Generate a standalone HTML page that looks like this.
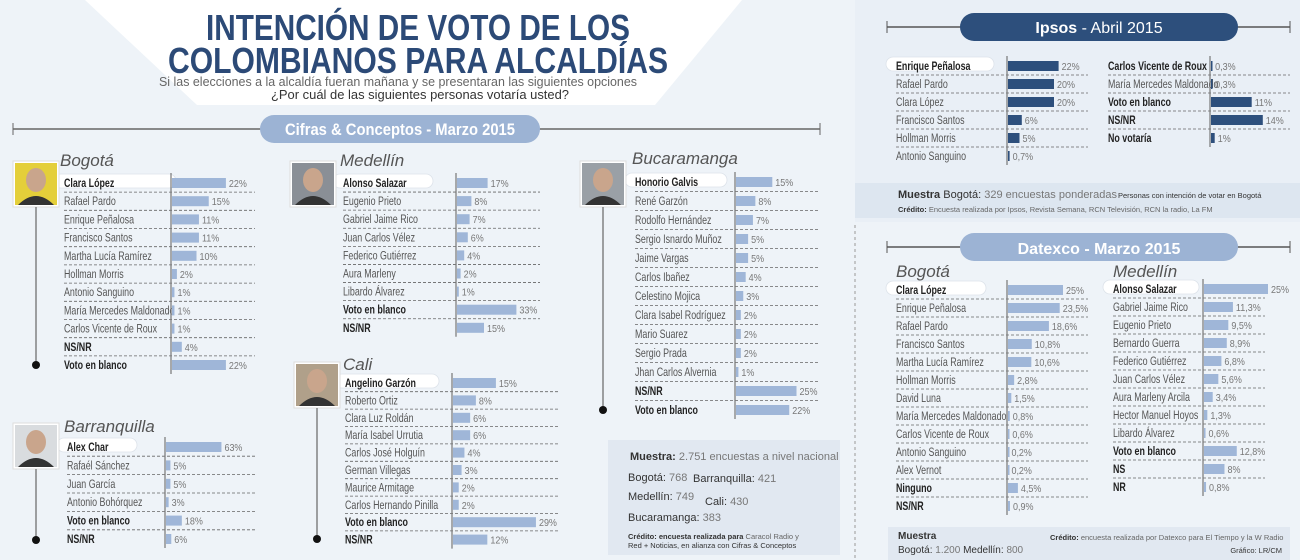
<!DOCTYPE html>
<html><head><meta charset="utf-8"><style>
body{margin:0;width:1300px;height:560px;overflow:hidden;background:#eef3f8}
svg{display:block}
.nm{font-family:"Liberation Sans Narrow","Liberation Sans",sans-serif;font-size:12px;fill:#555}
.nb{font-weight:bold;fill:#222}
.pc{font-family:"Liberation Sans",sans-serif;font-size:10px;fill:#777}
.ct{font-family:"Liberation Sans",sans-serif;font-style:italic;font-size:17px;fill:#555}
.sm{font-family:"Liberation Sans",sans-serif;fill:#333}
</style></head><body>
<svg id="c" width="1300" height="560" xmlns="http://www.w3.org/2000/svg">
<rect x="855" y="0" width="445" height="222" fill="#e9eff6"/>
<polygon points="85,0 742,0 655,105 197,105" fill="#fff"/>
<text x="418" y="40" text-anchor="middle" textLength="424" lengthAdjust="spacingAndGlyphs" font-family="Liberation Sans Narrow,Liberation Sans,sans-serif" font-weight="bold" font-size="36" fill="#2c4a77">INTENCIÓN DE VOTO DE LOS</text>
<text x="418" y="73" text-anchor="middle" textLength="500" lengthAdjust="spacingAndGlyphs" font-family="Liberation Sans Narrow,Liberation Sans,sans-serif" font-weight="bold" font-size="36" fill="#2c4a77">COLOMBIANOS PARA ALCALDÍAS</text>
<text x="398" y="86" text-anchor="middle" textLength="478" lengthAdjust="spacingAndGlyphs" font-family="Liberation Sans Narrow,Liberation Sans,sans-serif" font-size="13" fill="#666">Si las elecciones a la alcaldía  fueran mañana y se presentaran las siguientes opciones</text>
<text x="420" y="99" text-anchor="middle" textLength="298" lengthAdjust="spacingAndGlyphs" font-family="Liberation Sans Narrow,Liberation Sans,sans-serif" font-size="13" fill="#333">¿Por cuál de las siguientes personas votaría usted?</text>
<g>
<line x1="13" y1="129" x2="820" y2="129" stroke="#666" stroke-width="1.5"/><line x1="13" y1="123" x2="13" y2="135" stroke="#666"/><line x1="820" y1="123" x2="820" y2="135" stroke="#666"/>
<rect x="260" y="115" width="280" height="28" rx="14" fill="#9cb3d4"/>
<text x="400" y="135" text-anchor="middle" textLength="230" lengthAdjust="spacingAndGlyphs" font-family="Liberation Sans,sans-serif" font-weight="bold" font-size="17" fill="#fff">Cifras &amp; Conceptos - Marzo 2015</text></g>
<g>
<line x1="887" y1="27" x2="1290" y2="27" stroke="#555" stroke-width="1.5"/><line x1="887" y1="21" x2="887" y2="33" stroke="#555"/><line x1="1290" y1="21" x2="1290" y2="33" stroke="#555"/>
<rect x="960" y="13" width="278" height="28" rx="14" fill="#2d4f7c"/>
<text x="1099" y="33" text-anchor="middle" font-family="Liberation Sans,sans-serif" font-size="16" fill="#fff"><tspan font-weight="bold">Ipsos</tspan> - Abril 2015</text></g>
<g>
<line x1="887" y1="247" x2="1290" y2="247" stroke="#555" stroke-width="1.5"/><line x1="887" y1="241" x2="887" y2="253" stroke="#555"/><line x1="1290" y1="241" x2="1290" y2="253" stroke="#555"/>
<rect x="960" y="233" width="278" height="28" rx="14" fill="#9cb3d4"/>
<text x="1099" y="254" text-anchor="middle" font-family="Liberation Sans,sans-serif" font-weight="bold" font-size="16" fill="#fff">Datexco - Marzo 2015</text></g>
<line x1="855" y1="225" x2="855" y2="560" stroke="#999" stroke-dasharray="3,3"/>
<g>
<rect x="608" y="440" width="232" height="115" fill="#e1e8f1"/>
<text x="630" y="460" class="sm" font-size="11"><tspan font-weight="bold">Muestra:</tspan><tspan fill="#777"> 2.751 encuestas a nivel nacional</tspan></text>
<text x="628" y="481" class="sm" font-size="11">Bogotá: <tspan fill="#777">768</tspan></text>
<text x="693" y="482" class="sm" font-size="11">Barranquilla: <tspan fill="#777">421</tspan></text>
<text x="628" y="500" class="sm" font-size="11">Medellín: <tspan fill="#777">749</tspan></text>
<text x="705" y="505" class="sm" font-size="11">Cali: <tspan fill="#777">430</tspan></text>
<text x="628" y="521" class="sm" font-size="11">Bucaramanga: <tspan fill="#777">383</tspan></text>
<text x="628" y="539" class="sm" font-size="7.5" font-weight="bold">Crédito: encuesta realizada para <tspan font-weight="normal" fill="#666">Caracol Radio y</tspan></text>
<text x="628" y="548" class="sm" font-size="7.5" fill="#666">Red + Noticias, en alianza con Cifras &amp; Conceptos</text></g>
<g>
<rect x="855" y="183" width="445" height="35" fill="#dde6f0"/>
<text x="898" y="198" class="sm" font-size="11"><tspan font-weight="bold">Muestra</tspan>  Bogotá: <tspan fill="#777">329 encuestas ponderadas</tspan></text>
<text x="1118" y="198" class="sm" font-size="7.5">Personas con intención de votar en Bogotá</text>
<text x="898" y="212" class="sm" font-size="7.5"><tspan font-weight="bold">Crédito:</tspan><tspan fill="#666"> Encuesta realizada por Ipsos, Revista Semana, RCN Televisión, RCN la radio, La FM</tspan></text></g>
<g>
<rect x="888" y="527" width="402" height="33" fill="#e1e8f1"/>
<text x="898" y="539" class="sm" font-size="10" font-weight="bold">Muestra</text>
<text x="898" y="553" class="sm" font-size="10">Bogotá: <tspan fill="#777">1.200</tspan>   Medellín: <tspan fill="#777">800</tspan></text>
<text x="1050" y="540" class="sm" font-size="7.5"><tspan font-weight="bold">Crédito:</tspan><tspan fill="#666"> encuesta realizada por Datexco para El Tiempo y la W Radio</tspan></text>
<text x="1282" y="553" class="sm" font-size="7.5" fill="#777" text-anchor="end">Gráfico: LR/CM</text></g>
<g id="plots"></g>
</svg>
<script>
const bogNames=["Clara López","Rafael Pardo","Enrique Peñalosa","Francisco Santos","Martha Lucía Ramírez","Hollman Morris","Antonio Sanguino","María Mercedes Maldonado","Carlos Vicente de Roux","NS/NR","Voto en blanco"];
const bogValues=[22,15,11,11,10,2,1,1,1,4,22];
const medNames=["Alonso Salazar","Eugenio Prieto","Gabriel Jaime Rico","Juan Carlos Vélez","Federico Gutiérrez","Aura Marleny","Libardo Álvarez","Voto en blanco","NS/NR"];
const medValues=[17,8,7,6,4,2,1,33,15];
const bucNames=["Honorio Galvis","René Garzón","Rodolfo Hernández","Sergio Isnardo Muñoz","Jaime Vargas","Carlos Ibañez","Celestino Mojica","Clara Isabel Rodríguez","Mario Suarez","Sergio Prada","Jhan Carlos Alvernia","NS/NR","Voto en blanco"];
const bucValues=[15,8,7,5,5,4,3,2,2,2,1,25,22];
const barNames=["Alex Char","Rafaél Sánchez","Juan García","Antonio Bohórquez","Voto en blanco","NS/NR"];
const barValues=[63,5,5,3,18,6];
const caliNames=["Angelino Garzón","Roberto Ortiz","Clara Luz Roldán","María Isabel Urrutia","Carlos José Holguín","German Villegas","Maurice Armitage","Carlos Hernando Pinilla","Voto en blanco","NS/NR"];
const caliValues=[15,8,6,6,4,3,2,2,29,12];
const ipsLNames=["Enrique Peñalosa","Rafael Pardo","Clara López","Francisco Santos","Hollman Morris","Antonio Sanguino"];
const ipsLValues=[22,20,20,6,5,0.7];
const ipsRNames=["Carlos Vicente de Roux","María Mercedes Maldonado","Voto en blanco","NS/NR","No votaría"];
const ipsRValues=[0.3,0.3,11,14,1];
const dbNames=["Clara López","Enrique Peñalosa","Rafael Pardo","Francisco Santos","Martha Lucía Ramírez","Hollman Morris","David Luna","María Mercedes Maldonado","Carlos Vicente de Roux","Antonio Sanguino","Alex Vernot","Ninguno","NS/NR"];
const dbValues=[25,23.5,18.6,10.8,10.6,2.8,1.5,0.8,0.6,0.2,0.2,4.5,0.9];
const dmNames=["Alonso Salazar","Gabriel Jaime Rico","Eugenio Prieto","Bernardo Guerra","Federico Gutiérrez","Juan Carlos Vélez","Aura Marleny Arcila","Hector Manuel Hoyos","Libardo Álvarez","Voto en blanco","NS","NR"];
const dmValues=[25,11.3,9.5,8.9,6.8,5.6,3.4,1.3,0.6,12.8,8,0.8];
const boldSet=new Set(["NS/NR","Voto en blanco","No votaría","Ninguno","NS","NR"]);
const NS="http://www.w3.org/2000/svg";
const root=document.getElementById('plots');
function mk(t,a,p){const e=document.createElementNS(NS,t);for(const k in a)e.setAttribute(k,a[k]);(p||root).appendChild(e);return e;}
function fmt(v){return String(v).replace('.',',')+'%';}
function panel(key,title,names,values,o){
  const g=mk('g',{});
  
  
  const yOf=i=>o.y0+i*o.step;
  const xOf=v=>o.axis+1+v*o.scale;
  if(title){const t=mk('text',{x:o.tx,y:o.ty,class:'ct'},g);t.textContent=title;
    
    }
  if(o.pill){
    const pl=mk('rect',{x:o.nx-10,y:yOf(0)-9,width:o.pill,height:14,rx:7,fill:'#fff',stroke:'#dde3ea','stroke-width':0.8},g);
    
    
  }
  names.forEach((n,i)=>{
    const y=yOf(i);
    if(i<names.length-1){const l=mk('line',{x1:o.nx,x2:o.lineEnd,y1:y+o.step/2,y2:y+o.step/2,stroke:'#666','stroke-dasharray':'3,2','stroke-width':0.8},g);
      
      }
    const t=mk('text',{x:0,y:0,class:'nm'+((i==0||boldSet.has(n))?' nb':''),transform:`translate(${o.nx},${y+4}) scale(0.74,1)`},g);t.textContent=n;
    
    
    const w=Math.max(values[i]*o.scale,1.5);
    const b=mk('rect',{x:o.axis+1,y:y-5,width:w,height:10,fill:o.color||'#9fb6d8'},g);
    
    
    const p=mk('text',{x:0,y:0,class:'pc',transform:`translate(${xOf(values[i])+3},${y+4}) scale(0.9,1)`},g);p.textContent=fmt(values[i]);
    
    
  });
  const ax=mk('line',{x1:o.axis,x2:o.axis,y1:yOf(0)-10,y2:yOf(names.length-1)+9,stroke:'#777','stroke-width':1.2},g);
  
  
  if(o.photo){const [px,py,bg]=o.photo;
    const ph=mk('g',{},g);
    
    
    mk('rect',{x:px-2,y:py-2,width:46,height:46,fill:'#fff',stroke:'#ddd'},ph);
    mk('rect',{x:px,y:py,width:42,height:42,fill:bg},ph);
    mk('ellipse',{cx:px+21,cy:py+17,rx:10,ry:12,fill:'#c9a58c'},ph);
    mk('path',{d:`M${px+3} ${py+42} Q${px+21} ${py+24} ${px+39} ${py+42}Z`,fill:'#333'},ph);
    if(o.dotY){const lx=px+21;const ly=py+44;
      mk('line',{x1:lx,x2:lx,y1:ly,y2:o.dotY,stroke:'#666','stroke-width':1.2},ph);
      mk('circle',{cx:lx,cy:o.dotY,r:4,fill:'#111'},ph);}
  }
}
panel('bogota','Bogotá',bogNames,bogValues,{tx:60,ty:166,nx:64,y0:183,step:18.2,axis:171,scale:2.45,lineEnd:255,pill:122,photo:[15,163,'#e4cf3a'],dotY:365});
panel('medellin','Medellín',medNames,medValues,{tx:340,ty:166,nx:343,y0:183,step:18.1,axis:456,scale:1.8,lineEnd:540,pill:100,photo:[292,163,'#8a8f96'],dotY:0});
panel('bucaramanga','Bucaramanga',bucNames,bucValues,{tx:632,ty:164,nx:635,y0:182,step:19,axis:735,scale:2.42,lineEnd:820,pill:102,photo:[582,163,'#9aa0a6'],dotY:410});
panel('barranquilla','Barranquilla',barNames,barValues,{tx:64,ty:432,nx:67,y0:447,step:18.4,axis:165,scale:0.88,lineEnd:256,pill:80,photo:[15,425,'#d9dcdf'],dotY:540});
panel('cali','Cali',caliNames,caliValues,{tx:343,ty:370,nx:345,y0:383,step:17.4,axis:452,scale:2.86,lineEnd:560,pill:104,photo:[296,364,'#b0a08a'],dotY:539});
panel('ipsos-left',null,ipsLNames,ipsLValues,{nx:896,y0:66,step:18,axis:1007,scale:2.3,lineEnd:1088,pill:108,color:'#2d4f7c'});
panel('ipsos-right',null,ipsRNames,ipsRValues,{nx:1108,y0:66,step:18,axis:1210,scale:3.7,lineEnd:1290,pill:0,color:'#2d4f7c'});
panel('datexco-bogota','Bogotá',dbNames,dbValues,{tx:896,ty:277,nx:896,y0:290,step:18,axis:1007,scale:2.2,lineEnd:1088,pill:100});
panel('datexco-medellin','Medellín',dmNames,dmValues,{tx:1113,ty:277,nx:1113,y0:289,step:18,axis:1203,scale:2.56,lineEnd:1265,pill:96});
</script>
</body></html>
